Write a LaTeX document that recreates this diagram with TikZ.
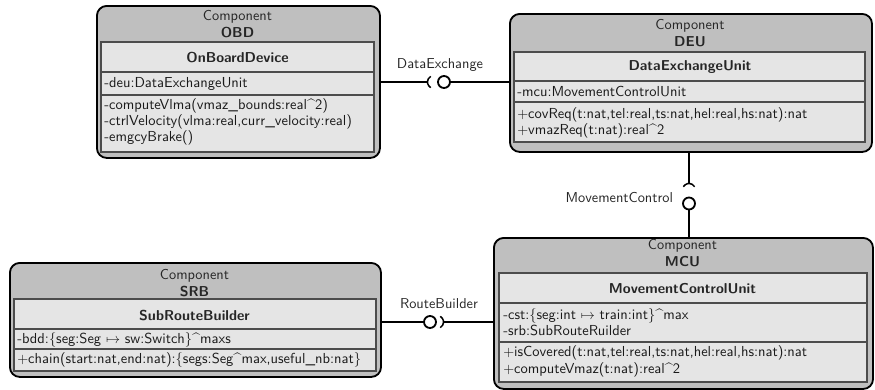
\documentclass[tikz,border=0pt]{standalone}
\usepackage{amssymb,amsmath}
\usepackage{tikz}
\usetikzlibrary{positioning,calc}

\begin{document}
\begin{tikzpicture}[x=0.025cm, y=-0.025cm,
	comp/.style={draw=black, line width=1.3pt, fill=gray!50, rounded corners=7pt, anchor=north west, inner sep=0pt},
	classbox/.style={draw=black!70, line width=0.8pt, fill=gray!20},
	ttl/.style={align=center, text=black!85, font=\sffamily\fontsize{10.2}{12}\selectfont},
	member/.style={align=left, anchor=west, inner sep=0pt, text=black!90, font=\sffamily\fontsize{10.3}{11.6}\selectfont},
	lbl/.style={text=black!85, font=\sffamily\fontsize{10.2}{12}\selectfont},
	ball/.style={draw=black, line width=1.3pt, fill=white},
	wire/.style={draw=black, line width=1.1pt}]

	\useasboundingbox (0,0) rectangle (875,389);

	%Komponenten
	\node[comp, minimum width=7.075cm, minimum height=3.8cm] (obd) at (96,5) {};
	\node[comp, minimum width=9.05cm, minimum height=3.45cm] (deu) at (509,13) {};
	\node[comp, minimum width=9.275cm, minimum height=2.85cm] (srb) at (9,262) {};
	\node[comp, minimum width=9.475cm, minimum height=3.775cm] (mcu) at (493,237) {};

	%OBD
	\draw[classbox] (101,42) rectangle (374,152);
	\draw[classbox] (101,72) -- (374,72) (101,95) -- (374,95);
	\node[ttl] (obdTitle) at (237.5,24.5) {Component\\\textbf{OBD}};
	\node[ttl] (obdName) at (237.5,58) {\textbf{OnBoardDevice}};
	\node[member] (obdAttr) at (104,84) {-deu:DataExchangeUnit};
	\node[member] (obdOps) at (104,122) {-computeVlma(vmaz\_bounds:real\^{}2)\\-ctrlVelocity(vlma:real,curr\_velocity:real)\\-emgcyBrake()};

	%DEU
	\draw[classbox] (514,52) rectangle (865,142);
	\draw[classbox] (514,81) -- (865,81) (514,102) -- (865,102);
	\node[ttl] (deuTitle) at (690,33) {Component\\\textbf{DEU}};
	\node[ttl] (deuName) at (690,67) {\textbf{DataExchangeUnit}};
	\node[member] (deuAttr) at (517,92) {-mcu:MovementControlUnit};
	\node[member] (deuOps) at (517,123) {$+$covReq(t:nat,tel:real,ts:nat,hel:real,hs:nat):nat\\$+$vmazReq(t:nat):real\^{}2};

	%SRB
	\draw[classbox] (14,299) rectangle (376,371);
	\draw[classbox] (14,329) -- (376,329) (14,349) -- (376,349);
	\node[ttl] (srbTitle) at (194.5,283) {Component\\\textbf{SRB}};
	\node[ttl] (srbName) at (194.5,316) {\textbf{SubRouteBuilder}};
	\node[member] (srbAttr) at (17,339.5) {-bdd:\{seg:Seg $\mapsto$ sw:Switch\}\^{}maxs};
	\node[member] (srbOps) at (17,359.5) {$+$chain(start:nat,end:nat):\{segs:Seg\^{}max,useful\_nb:nat\}};

	%MCU
	\draw[classbox] (499,273) rectangle (867,382);
	\draw[classbox] (499,303) -- (867,303) (499,342) -- (867,342);
	\node[ttl] (mcuTitle) at (682.5,253.5) {Component\\\textbf{MCU}};
	\node[ttl] (mcuName) at (682.5,289) {\textbf{MovementControlUnit}};
	\node[member] (mcuAttr) at (503,322.5) {-cst:\{seg:int $\mapsto$ train:int\}\^{}max\\-srb:SubRouteRuilder};
	\node[member] (mcuOps) at (503,361.5) {$+$isCovered(t:nat,tel:real,ts:nat,hel:real,hs:nat):nat\\$+$computeVmaz(t:nat):real\^{}2};

	%DataExchange
	\coordinate (dxSock) at (434,82);
	\node[ball, circle, minimum size=0.3cm, inner sep=0pt] (dxBall) at (444,82) {};
	\draw[wire] (obd.east |- dxSock) -- ($(dxSock)+(-6.5,0)$);
	\draw[wire] ($(dxSock)+(120:6.5)$) arc (120:240:6.5);
	\draw[wire] (dxBall.east) -- (deu.west |- dxBall);
	\node[lbl] (dxLbl) at (440,65) {DataExchange};

	%MovementControl
	\coordinate (mcSock) at (689,190);
	\node[ball, circle, minimum size=0.3cm, inner sep=0pt] (mcBall) at (689,203.5) {};
	\draw[wire] (deu.south -| mcSock) -- ($(mcSock)+(0,-6.5)$);
	\draw[wire] ($(mcSock)+(-150:6.5)$) arc (-150:-30:6.5);
	\draw[wire] (mcBall.south) -- (mcu.north -| mcBall);
	\node[lbl, anchor=east] (mcLbl) at (678,198) {MovementControl};

	%RouteBuilder
	\coordinate (rbSock) at (437,322);
	\node[ball, circle, minimum size=0.3cm, inner sep=0pt] (rbBall) at (430,322) {};
	\draw[wire] (srb.east |- rbBall) -- (rbBall.west);
	\draw[wire] ($(rbSock)+(-60:6.5)$) arc (-60:60:6.5);
	\draw[wire] ($(rbSock)+(6.5,0)$) -- (mcu.west |- rbSock);
	\node[lbl] (rbLbl) at (439,304) {RouteBuilder};

\end{tikzpicture}
\end{document}
